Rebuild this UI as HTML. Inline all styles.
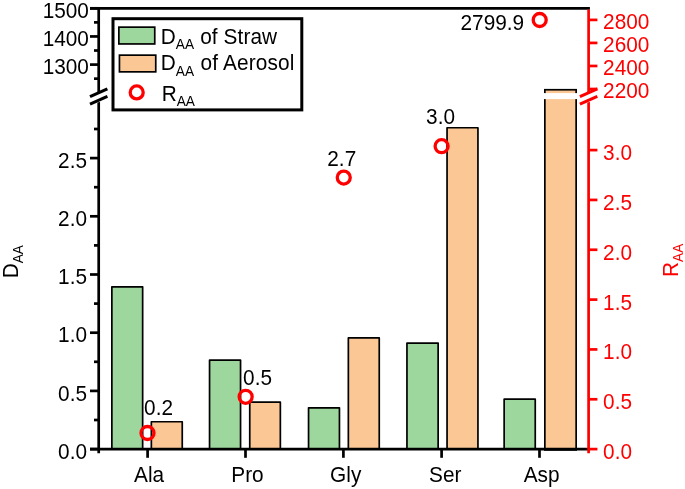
<!DOCTYPE html>
<html><head><meta charset="utf-8"><style>
html,body{margin:0;padding:0;background:#fff;}
svg{display:block;will-change:transform;font-family:"Liberation Sans",sans-serif;}
</style></head><body>
<svg width="685" height="489" viewBox="0 0 685 489">
<rect width="685" height="489" fill="#fff"/>
<rect x="111.85" y="286.85" width="30.80" height="162.25" fill="#9ed79d" stroke="#000" stroke-width="1.7" stroke-linejoin="round"/>
<rect x="209.55" y="360.15" width="31.00" height="88.95" fill="#9ed79d" stroke="#000" stroke-width="1.7" stroke-linejoin="round"/>
<rect x="308.55" y="407.85" width="30.90" height="41.25" fill="#9ed79d" stroke="#000" stroke-width="1.7" stroke-linejoin="round"/>
<rect x="406.95" y="343.05" width="31.20" height="106.05" fill="#9ed79d" stroke="#000" stroke-width="1.7" stroke-linejoin="round"/>
<rect x="504.15" y="399.15" width="31.10" height="49.95" fill="#9ed79d" stroke="#000" stroke-width="1.7" stroke-linejoin="round"/>
<rect x="151.35" y="421.75" width="30.90" height="27.35" fill="#fbc794" stroke="#000" stroke-width="1.7" stroke-linejoin="round"/>
<rect x="249.75" y="402.05" width="30.60" height="47.05" fill="#fbc794" stroke="#000" stroke-width="1.7" stroke-linejoin="round"/>
<rect x="348.35" y="337.95" width="30.90" height="111.15" fill="#fbc794" stroke="#000" stroke-width="1.7" stroke-linejoin="round"/>
<rect x="447.05" y="127.75" width="30.90" height="321.35" fill="#fbc794" stroke="#000" stroke-width="1.7" stroke-linejoin="round"/>
<rect x="544.85" y="89.75" width="31.30" height="360.20" fill="#fbc794" stroke="#000" stroke-width="1.7"/>
<rect x="543.00" y="93.1" width="35.00" height="6.0" fill="#fff"/>
<line x1="90.00" y1="8.40" x2="589.90" y2="8.40" stroke="#000" stroke-width="2.9" stroke-linecap="butt"/>
<line x1="90.00" y1="449.10" x2="588.60" y2="449.10" stroke="#000" stroke-width="2.7" stroke-linecap="butt"/>
<line x1="98.70" y1="7.00" x2="98.70" y2="93.00" stroke="#000" stroke-width="2.7" stroke-linecap="butt"/>
<line x1="98.70" y1="100.20" x2="98.70" y2="453.30" stroke="#000" stroke-width="2.7" stroke-linecap="butt"/>
<line x1="588.60" y1="9.60" x2="588.60" y2="93.00" stroke="#ff0000" stroke-width="2.7" stroke-linecap="butt"/>
<line x1="588.60" y1="100.20" x2="588.60" y2="453.30" stroke="#ff0000" stroke-width="2.7" stroke-linecap="butt"/>
<line x1="90.00" y1="8.30" x2="98.70" y2="8.30" stroke="#000" stroke-width="2.7" stroke-linecap="butt"/>
<line x1="90.00" y1="36.45" x2="98.70" y2="36.45" stroke="#000" stroke-width="2.7" stroke-linecap="butt"/>
<line x1="90.00" y1="64.60" x2="98.70" y2="64.60" stroke="#000" stroke-width="2.7" stroke-linecap="butt"/>
<line x1="94.00" y1="22.38" x2="98.70" y2="22.38" stroke="#000" stroke-width="2.7" stroke-linecap="butt"/>
<line x1="94.00" y1="50.52" x2="98.70" y2="50.52" stroke="#000" stroke-width="2.7" stroke-linecap="butt"/>
<line x1="94.00" y1="78.67" x2="98.70" y2="78.67" stroke="#000" stroke-width="2.7" stroke-linecap="butt"/>
<line x1="90.00" y1="449.10" x2="98.70" y2="449.10" stroke="#000" stroke-width="2.7" stroke-linecap="butt"/>
<line x1="90.00" y1="390.90" x2="98.70" y2="390.90" stroke="#000" stroke-width="2.7" stroke-linecap="butt"/>
<line x1="90.00" y1="332.70" x2="98.70" y2="332.70" stroke="#000" stroke-width="2.7" stroke-linecap="butt"/>
<line x1="90.00" y1="274.50" x2="98.70" y2="274.50" stroke="#000" stroke-width="2.7" stroke-linecap="butt"/>
<line x1="90.00" y1="216.30" x2="98.70" y2="216.30" stroke="#000" stroke-width="2.7" stroke-linecap="butt"/>
<line x1="90.00" y1="158.10" x2="98.70" y2="158.10" stroke="#000" stroke-width="2.7" stroke-linecap="butt"/>
<line x1="94.00" y1="420.00" x2="98.70" y2="420.00" stroke="#000" stroke-width="2.7" stroke-linecap="butt"/>
<line x1="94.00" y1="361.80" x2="98.70" y2="361.80" stroke="#000" stroke-width="2.7" stroke-linecap="butt"/>
<line x1="94.00" y1="303.60" x2="98.70" y2="303.60" stroke="#000" stroke-width="2.7" stroke-linecap="butt"/>
<line x1="94.00" y1="245.40" x2="98.70" y2="245.40" stroke="#000" stroke-width="2.7" stroke-linecap="butt"/>
<line x1="94.00" y1="187.20" x2="98.70" y2="187.20" stroke="#000" stroke-width="2.7" stroke-linecap="butt"/>
<line x1="94.00" y1="129.00" x2="98.70" y2="129.00" stroke="#000" stroke-width="2.7" stroke-linecap="butt"/>
<line x1="588.60" y1="449.10" x2="597.40" y2="449.10" stroke="#ff0000" stroke-width="2.7" stroke-linecap="butt"/>
<line x1="588.60" y1="399.27" x2="597.40" y2="399.27" stroke="#ff0000" stroke-width="2.7" stroke-linecap="butt"/>
<line x1="588.60" y1="349.43" x2="597.40" y2="349.43" stroke="#ff0000" stroke-width="2.7" stroke-linecap="butt"/>
<line x1="588.60" y1="299.60" x2="597.40" y2="299.60" stroke="#ff0000" stroke-width="2.7" stroke-linecap="butt"/>
<line x1="588.60" y1="249.76" x2="597.40" y2="249.76" stroke="#ff0000" stroke-width="2.7" stroke-linecap="butt"/>
<line x1="588.60" y1="199.93" x2="597.40" y2="199.93" stroke="#ff0000" stroke-width="2.7" stroke-linecap="butt"/>
<line x1="588.60" y1="150.09" x2="597.40" y2="150.09" stroke="#ff0000" stroke-width="2.7" stroke-linecap="butt"/>
<line x1="588.60" y1="89.00" x2="597.40" y2="89.00" stroke="#ff0000" stroke-width="2.7" stroke-linecap="butt"/>
<line x1="588.60" y1="65.97" x2="597.40" y2="65.97" stroke="#ff0000" stroke-width="2.7" stroke-linecap="butt"/>
<line x1="588.60" y1="42.93" x2="597.40" y2="42.93" stroke="#ff0000" stroke-width="2.7" stroke-linecap="butt"/>
<line x1="588.60" y1="19.90" x2="597.40" y2="19.90" stroke="#ff0000" stroke-width="2.7" stroke-linecap="butt"/>
<line x1="147.60" y1="449.10" x2="147.60" y2="457.80" stroke="#000" stroke-width="2.7" stroke-linecap="butt"/>
<line x1="245.50" y1="449.10" x2="245.50" y2="457.80" stroke="#000" stroke-width="2.7" stroke-linecap="butt"/>
<line x1="343.40" y1="449.10" x2="343.40" y2="457.80" stroke="#000" stroke-width="2.7" stroke-linecap="butt"/>
<line x1="441.60" y1="449.10" x2="441.60" y2="457.80" stroke="#000" stroke-width="2.7" stroke-linecap="butt"/>
<line x1="539.50" y1="449.10" x2="539.50" y2="457.80" stroke="#000" stroke-width="2.7" stroke-linecap="butt"/>
<polygon points="89.70,101.00 107.70,92.80 107.70,100.30 89.70,104.30" fill="#fff"/>
<line x1="90.00" y1="96.60" x2="107.40" y2="88.90" stroke="#000" stroke-width="3.1" stroke-linecap="butt"/>
<line x1="90.00" y1="104.10" x2="107.40" y2="96.40" stroke="#000" stroke-width="3.1" stroke-linecap="butt"/>
<polygon points="579.60,101.00 597.60,92.80 597.60,100.30 579.60,104.30" fill="#fff"/>
<line x1="579.90" y1="96.60" x2="597.30" y2="88.90" stroke="#ff0000" stroke-width="3.1" stroke-linecap="butt"/>
<line x1="579.90" y1="104.10" x2="597.30" y2="96.40" stroke="#ff0000" stroke-width="3.1" stroke-linecap="butt"/>
<text transform="translate(88.90,17.60) scale(1,1.09)" fill="#000" font-size="20.8" text-anchor="end">1500</text>
<text transform="translate(88.90,45.75) scale(1,1.09)" fill="#000" font-size="20.8" text-anchor="end">1400</text>
<text transform="translate(88.90,73.90) scale(1,1.09)" fill="#000" font-size="20.8" text-anchor="end">1300</text>
<text transform="translate(87.00,458.80) scale(1,1.09)" fill="#000" font-size="20.8" text-anchor="end">0.0</text>
<text transform="translate(87.00,400.60) scale(1,1.09)" fill="#000" font-size="20.8" text-anchor="end">0.5</text>
<text transform="translate(87.00,342.40) scale(1,1.09)" fill="#000" font-size="20.8" text-anchor="end">1.0</text>
<text transform="translate(87.00,284.20) scale(1,1.09)" fill="#000" font-size="20.8" text-anchor="end">1.5</text>
<text transform="translate(87.00,226.00) scale(1,1.09)" fill="#000" font-size="20.8" text-anchor="end">2.0</text>
<text transform="translate(87.00,167.80) scale(1,1.09)" fill="#000" font-size="20.8" text-anchor="end">2.5</text>
<text transform="translate(603.10,459.00) scale(1,1.09)" fill="#ff0000" font-size="20.8" text-anchor="start">0.0</text>
<text transform="translate(603.10,409.17) scale(1,1.09)" fill="#ff0000" font-size="20.8" text-anchor="start">0.5</text>
<text transform="translate(603.10,359.33) scale(1,1.09)" fill="#ff0000" font-size="20.8" text-anchor="start">1.0</text>
<text transform="translate(603.10,309.50) scale(1,1.09)" fill="#ff0000" font-size="20.8" text-anchor="start">1.5</text>
<text transform="translate(603.10,259.66) scale(1,1.09)" fill="#ff0000" font-size="20.8" text-anchor="start">2.0</text>
<text transform="translate(603.10,209.83) scale(1,1.09)" fill="#ff0000" font-size="20.8" text-anchor="start">2.5</text>
<text transform="translate(603.10,159.99) scale(1,1.09)" fill="#ff0000" font-size="20.8" text-anchor="start">3.0</text>
<text transform="translate(603.10,98.20) scale(1,1.09)" fill="#ff0000" font-size="20.8" text-anchor="start">2200</text>
<text transform="translate(603.10,75.17) scale(1,1.09)" fill="#ff0000" font-size="20.8" text-anchor="start">2400</text>
<text transform="translate(603.10,52.13) scale(1,1.09)" fill="#ff0000" font-size="20.8" text-anchor="start">2600</text>
<text transform="translate(603.10,29.10) scale(1,1.09)" fill="#ff0000" font-size="20.8" text-anchor="start">2800</text>
<text transform="translate(149.10,481.70) scale(1,1.09)" fill="#000" font-size="20.8" text-anchor="middle">Ala</text>
<text transform="translate(247.50,481.70) scale(1,1.09)" fill="#000" font-size="20.8" text-anchor="middle">Pro</text>
<text transform="translate(345.70,481.70) scale(1,1.09)" fill="#000" font-size="20.8" text-anchor="middle">Gly</text>
<text transform="translate(445.30,481.70) scale(1,1.09)" fill="#000" font-size="20.8" text-anchor="middle">Ser</text>
<text transform="translate(541.60,481.70) scale(1,1.09)" fill="#000" font-size="20.8" text-anchor="middle">Asp</text>
<circle cx="147.5" cy="433.0" r="6.5" fill="none" stroke="#ff0000" stroke-width="3.3"/>
<circle cx="245.65" cy="396.8" r="6.5" fill="none" stroke="#ff0000" stroke-width="3.3"/>
<circle cx="343.75" cy="177.6" r="6.5" fill="none" stroke="#ff0000" stroke-width="3.3"/>
<circle cx="441.6" cy="146.2" r="6.5" fill="none" stroke="#ff0000" stroke-width="3.3"/>
<circle cx="539.7" cy="20.0" r="6.5" fill="none" stroke="#ff0000" stroke-width="3.3"/>
<text transform="translate(144.10,415.10) scale(1,1.09)" fill="#000" font-size="20.8" text-anchor="start">0.2</text>
<text transform="translate(243.10,385.20) scale(1,1.09)" fill="#000" font-size="20.8" text-anchor="start">0.5</text>
<text transform="translate(327.30,165.60) scale(1,1.09)" fill="#000" font-size="20.8" text-anchor="start">2.7</text>
<text transform="translate(426.10,123.60) scale(1,1.09)" fill="#000" font-size="20.8" text-anchor="start">3.0</text>
<text transform="translate(460.50,29.80) scale(1,1.09)" fill="#000" font-size="20.8" text-anchor="start">2799.9</text>
<rect x="113.0" y="18.7" width="188.8" height="91.2" fill="#fff" stroke="#000" stroke-width="3"/>
<rect x="118.85" y="27.150000000000002" width="35.9" height="16.8" fill="#9ed79d" stroke="#000" stroke-width="1.7"/>
<rect x="119.44999999999999" y="55.15" width="36.3" height="16.7" fill="#fbc794" stroke="#000" stroke-width="1.7"/>
<circle cx="136.7" cy="92.4" r="6.5" fill="none" stroke="#ff0000" stroke-width="3.3"/>
<text transform="translate(160.80,43.50) scale(1,1.09)" fill="#000" font-size="20.8" text-anchor="start">D<tspan font-size="13.7" dy="4.77">AA</tspan><tspan dx="0.2" dy="-4.77" letter-spacing="0.1"> of Straw</tspan></text>
<text transform="translate(160.80,70.30) scale(1,1.09)" fill="#000" font-size="20.8" text-anchor="start">D<tspan font-size="13.7" dy="4.77">AA</tspan><tspan dx="0.6" dy="-4.77" letter-spacing="0.15"> of Aerosol</tspan></text>
<text transform="translate(161.70,100.60) scale(1,1.09)" fill="#000" font-size="20.8" text-anchor="start">R<tspan font-size="13.7" dy="4.77">AA</tspan></text>
<g transform="translate(18.2,278.3) rotate(-90)">
<text transform="translate(0.00,0.00) scale(1,1.09)" fill="#000" font-size="20.8" text-anchor="start">D<tspan font-size="13.7" dy="4.77">AA</tspan></text>
</g>
<g transform="translate(677.6,277.0) rotate(-90)">
<text transform="translate(0.00,0.00) scale(1,1.09)" fill="#ff0000" font-size="20.8" text-anchor="start">R<tspan font-size="13.7" dy="4.77">AA</tspan></text>
</g>
</svg>
</body></html>
